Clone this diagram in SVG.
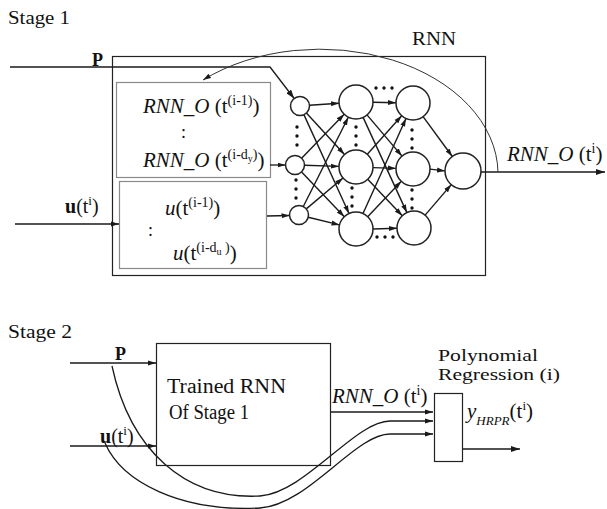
<svg xmlns="http://www.w3.org/2000/svg" width="607" height="509" viewBox="0 0 607 509" font-family="'Liberation Serif', 'Times New Roman', Times, serif">
<style>
text{font-family:'Liberation Serif','Times New Roman',Times,serif;fill:#111}
.it{font-style:italic}
.b{font-weight:bold}
.ln{stroke:#1a1a1a;stroke-width:1.3;fill:none}
.nn{stroke:#1a1a1a;stroke-width:1.4;fill:none}
.box{stroke:#222;stroke-width:1.2;fill:none}
.gbox{stroke:#8a8a8a;stroke-width:1.2;fill:none}
.node{stroke:#222;stroke-width:1.5;fill:#fff}
.dot{fill:#111}
</style>
<defs>
<marker id="ah" markerUnits="userSpaceOnUse" markerWidth="9" markerHeight="6" refX="9" refY="3" orient="auto">
<path d="M0,0 L9,3 L0,6 z" fill="#1a1a1a"/>
</marker>
<marker id="ahs" markerUnits="userSpaceOnUse" markerWidth="8" markerHeight="6" refX="8" refY="3" orient="auto">
<path d="M0,0.5 L8,3 L0,5.5 z" fill="#1a1a1a"/>
</marker>
</defs>

<text x="8" y="24" font-size="18" textLength="62" lengthAdjust="spacingAndGlyphs">Stage 1</text>
<text x="8" y="338" font-size="18" textLength="64" lengthAdjust="spacingAndGlyphs">Stage 2</text>

<g id="rnn-box">
<rect class="box" x="112.5" y="56.5" width="373" height="219"/>
<text x="412" y="45" font-size="19" textLength="44" lengthAdjust="spacingAndGlyphs">RNN</text>
</g>

<g id="delay-output-box">
<rect class="gbox" x="116.5" y="82.5" width="154" height="95"/>
<text class="it" x="143" y="113" font-size="21">RNN_O<tspan font-style="normal"> (t</tspan><tspan font-style="normal" font-size="14" dy="-8">(i-1)</tspan><tspan font-style="normal" dy="8">)</tspan></text>
<text x="181" y="138" font-size="18">:</text>
<text class="it" x="143" y="167" font-size="21">RNN_O<tspan font-style="normal"> (t</tspan><tspan font-style="normal" font-size="14" dy="-8">(i-d</tspan><tspan font-style="normal" font-size="10" dy="3">y</tspan><tspan font-style="normal" font-size="14" dy="-3">)</tspan><tspan font-style="normal" dy="8">)</tspan></text>
</g>

<g id="delay-input-box">
<rect class="gbox" x="119.5" y="181.5" width="147" height="87"/>
<text class="it" x="165" y="215" font-size="21">u<tspan font-style="normal">(t</tspan><tspan font-style="normal" font-size="14" dy="-8">(i-1)</tspan><tspan font-style="normal" dy="8">)</tspan></text>
<text x="148" y="236" font-size="18">:</text>
<text class="it" x="173" y="260" font-size="21">u<tspan font-style="normal">(t</tspan><tspan font-style="normal" font-size="14" dy="-8">(i-d</tspan><tspan font-style="normal" font-size="10" dy="3">u</tspan><tspan font-style="normal" font-size="14" dy="-3"> )</tspan><tspan font-style="normal" dy="8">)</tspan></text>
</g>

<g id="labels-stage1">
<text class="b" x="92" y="66" font-size="18">P</text>
<text x="65" y="213" font-size="20"><tspan font-weight="bold">u</tspan>(t<tspan font-size="13" dy="-8">i</tspan><tspan dy="8">)</tspan></text>
<text class="it" x="507" y="161" font-size="21">RNN_O<tspan font-style="normal"> (t</tspan><tspan font-style="normal" font-size="14" dy="-8">i</tspan><tspan font-style="normal" dy="8">)</tspan></text>
</g>

<g id="connectors">
<polyline class="ln" points="10,67 270,67 294.2,98.5" marker-end="url(#ah)"/>
<line class="ln" x1="270" y1="165" x2="285.5" y2="165" marker-end="url(#ahs)"/>
<line class="ln" x1="267" y1="216" x2="289.5" y2="215.5" marker-end="url(#ahs)"/>
<line class="ln" x1="15" y1="224" x2="119" y2="224" marker-end="url(#ahs)"/>
<line class="nn" x1="309.5" y1="105.3" x2="339" y2="103.2" marker-end="url(#ahs)"/>
<line class="nn" x1="306.4" y1="113" x2="344.5" y2="154.5" marker-end="url(#ahs)"/>
<line class="nn" x1="303.9" y1="114.6" x2="349" y2="213.5" marker-end="url(#ahs)"/>
<line class="nn" x1="301.6" y1="158.2" x2="344.2" y2="114.2" marker-end="url(#ahs)"/>
<line class="nn" x1="304.5" y1="165.3" x2="339" y2="166.4" marker-end="url(#ahs)"/>
<line class="nn" x1="301.6" y1="171.9" x2="344.3" y2="216.7" marker-end="url(#ahs)"/>
<line class="nn" x1="303.3" y1="206.5" x2="348.3" y2="117.2" marker-end="url(#ahs)"/>
<line class="nn" x1="306.3" y1="208.9" x2="343" y2="178" marker-end="url(#ahs)"/>
<line class="nn" x1="308.2" y1="217.3" x2="339.5" y2="224.9" marker-end="url(#ahs)"/>
<line class="nn" x1="373" y1="102.3" x2="396" y2="102.7" marker-end="url(#ahs)"/>
<line class="nn" x1="367" y1="114.9" x2="402" y2="156.1" marker-end="url(#ahs)"/>
<line class="nn" x1="363.1" y1="117.4" x2="406.9" y2="212.6" marker-end="url(#ahs)"/>
<line class="nn" x1="367.3" y1="154.3" x2="401.7" y2="115.7" marker-end="url(#ahs)"/>
<line class="nn" x1="373" y1="167.6" x2="396" y2="168.4" marker-end="url(#ahs)"/>
<line class="nn" x1="367.7" y1="179.3" x2="402.3" y2="215.7" marker-end="url(#ahs)"/>
<line class="nn" x1="363" y1="213.5" x2="406" y2="118.5" marker-end="url(#ahs)"/>
<line class="nn" x1="367.7" y1="216.7" x2="401.3" y2="181.3" marker-end="url(#ahs)"/>
<line class="nn" x1="373" y1="229" x2="397" y2="228.3" marker-end="url(#ahs)"/>
<line class="nn" x1="423.1" y1="116.7" x2="452.3" y2="156.5" marker-end="url(#ahs)"/>
<line class="nn" x1="430" y1="169.1" x2="445" y2="170.9" marker-end="url(#ahs)"/>
<line class="nn" x1="425.1" y1="215.1" x2="451.3" y2="184.6" marker-end="url(#ahs)"/>
<line class="ln" x1="481" y1="172" x2="605" y2="172" marker-end="url(#ah)"/>
<path d="M498,172 A178,125 0 0 0 203,80" stroke="#333" stroke-width="1" fill="none" marker-end="url(#ahs)"/>
<line class="ln" x1="70" y1="363" x2="156" y2="363" marker-end="url(#ahs)"/>
<line class="ln" x1="70" y1="446" x2="156" y2="446" marker-end="url(#ahs)"/>
<line class="ln" x1="331" y1="412" x2="433" y2="412" marker-end="url(#ahs)"/>
<path class="ln" d="M112,366 C130,450 185,500 260,496 C305,493 355,421 390,421 L433,421" marker-end="url(#ahs)"/>
<path class="ln" d="M105,443 C122,482 180,512 260,508 C308,505 355,434 390,434 L433,434" marker-end="url(#ahs)"/>
<line class="ln" x1="463" y1="449" x2="520" y2="449" marker-end="url(#ah)"/>
</g>

<g id="input-layer">
<circle class="node" cx="300" cy="106" r="9.5"/>
<circle class="node" cx="295" cy="165" r="9.5"/>
<circle class="node" cx="299" cy="215" r="9.5"/>
<circle class="dot" cx="297" cy="127" r="1.7"/><circle class="dot" cx="297" cy="136" r="1.7"/><circle class="dot" cx="297" cy="145" r="1.7"/>
<circle class="dot" cx="296" cy="180" r="1.7"/><circle class="dot" cx="296" cy="189" r="1.7"/><circle class="dot" cx="296" cy="198" r="1.7"/>
</g>

<g id="hidden-layer-1">
<circle class="node" cx="356" cy="102" r="17"/>
<circle class="node" cx="356" cy="167" r="17"/>
<circle class="node" cx="356" cy="229" r="17"/>
<circle class="dot" cx="356" cy="127" r="1.7"/><circle class="dot" cx="356" cy="136" r="1.7"/><circle class="dot" cx="356" cy="145" r="1.7"/>
<circle class="dot" cx="352" cy="188" r="1.7"/><circle class="dot" cx="352" cy="197" r="1.7"/><circle class="dot" cx="352" cy="206" r="1.7"/>
<circle class="dot" cx="376" cy="88" r="1.7"/><circle class="dot" cx="384" cy="88" r="1.7"/><circle class="dot" cx="392" cy="88" r="1.7"/>
<circle class="dot" cx="377" cy="237" r="1.7"/><circle class="dot" cx="385" cy="237" r="1.7"/><circle class="dot" cx="393" cy="237" r="1.7"/>
</g>

<g id="hidden-layer-2">
<circle class="node" cx="413" cy="103" r="17"/>
<circle class="node" cx="413" cy="169" r="17"/>
<circle class="node" cx="414" cy="228" r="17"/>
<circle class="dot" cx="412" cy="130" r="1.7"/><circle class="dot" cx="412" cy="139" r="1.7"/><circle class="dot" cx="412" cy="148" r="1.7"/>
<circle class="dot" cx="412" cy="190" r="1.7"/><circle class="dot" cx="412" cy="199" r="1.7"/><circle class="dot" cx="412" cy="208" r="1.7"/>
</g>

<g id="output-node">
<circle class="node" cx="463" cy="171" r="18"/>
</g>

<g id="trained-rnn">
<rect class="box" x="156.5" y="343.5" width="174" height="122" stroke="#555"/>
<text x="167" y="393" font-size="20" textLength="119" lengthAdjust="spacingAndGlyphs">Trained RNN</text>
<text x="169" y="419" font-size="20" textLength="80" lengthAdjust="spacingAndGlyphs">Of Stage 1</text>
</g>

<g id="labels-stage2">
<text class="b" x="115" y="360" font-size="18">P</text>
<text x="100" y="443" font-size="20"><tspan font-weight="bold">u</tspan>(t<tspan font-size="13" dy="-8">i</tspan><tspan dy="8">)</tspan></text>
<text class="it" x="332" y="403" font-size="21">RNN_O<tspan font-style="normal"> (t</tspan><tspan font-style="normal" font-size="14" dy="-8">i</tspan><tspan font-style="normal" dy="8">)</tspan></text>
</g>

<g id="polynomial-regression">
<rect class="box" x="434.5" y="393.5" width="28" height="68"/>
<text x="438" y="361" font-size="16" textLength="100" lengthAdjust="spacingAndGlyphs">Polynomial</text>
<text x="438" y="380" font-size="16" textLength="122" lengthAdjust="spacingAndGlyphs">Regression (i)</text>
<text class="it" x="467" y="418" font-size="21">y<tspan font-size="13" dy="7">HRPR</tspan><tspan font-style="normal" dy="-7">(t</tspan><tspan font-style="normal" font-size="13" dy="-8">i</tspan><tspan font-style="normal" dy="8">)</tspan></text>
</g>
</svg>
